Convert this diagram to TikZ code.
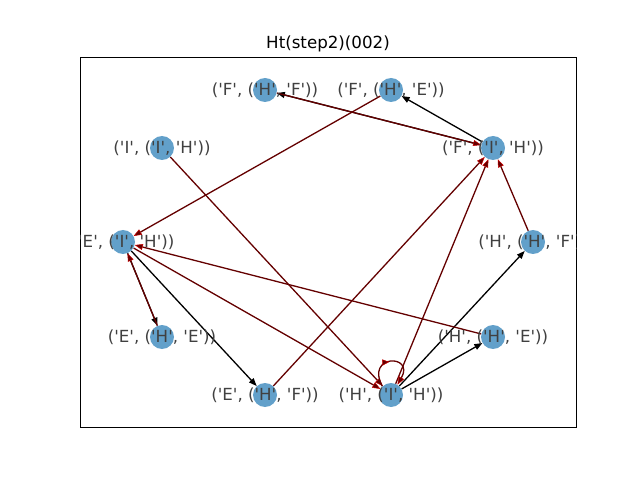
\documentclass[tikz,border=0pt]{standalone}
\usepackage{fontspec}
\setmainfont{DejaVu Sans}[Ligatures=TeXOff]
\usetikzlibrary{arrows.meta,decorations.markings,backgrounds}
\definecolor{nodeblue}{RGB}{98,160,202}
\definecolor{edgered}{RGB}{100,0,0}
\definecolor{tipred}{RGB}{200,0,0}
\definecolor{labelgray}{RGB}{64,64,64}
\begin{document}
\begin{tikzpicture}[x=1pt,y=1pt,
  vertex/.style={circle,fill=nodeblue,minimum size=24pt,inner sep=0pt},
  lbl/.style={text=labelgray,font=\fontsize{16.67}{20}\selectfont,inner sep=0pt},
  blackedge/.style={draw=black,line width=1.3pt,-{Triangle[length=8pt,width=6pt]}},
  rededge/.style={draw=edgered,line width=1.3pt,-{Triangle[length=8pt,width=6pt,line width=0.5pt,color=tipred,fill=edgered]}},
  midarrow/.style={postaction={decorate},decoration={markings,
     mark=at position 0.5 with {\arrow{Triangle[length=7pt,width=6pt,line width=0.5pt,color=tipred,fill=edgered]}}}}
]
\useasboundingbox (0,0) rectangle (640,480);
% title
\node[font=\fontsize{16.67}{20}\selectfont,anchor=base,inner sep=0pt] (title) at (328,431.5) {Ht(step2)(002)};
% axes frame
\draw[line width=1pt] (80,53) rectangle (576,422);
% vertices
\node[vertex] (fhf) at (265,390) {};
\node[vertex] (fhe) at (391,390) {};
\node[vertex] (iih) at (162,332) {};
\node[vertex] (fih) at (493,332) {};
\node[vertex] (eih) at (123,238) {};
\node[vertex] (hhf) at (533,238) {};
\node[vertex] (ehe) at (162,143) {};
\node[vertex] (hhe) at (493,143) {};
\node[vertex] (ehf) at (265,85) {};
\node[vertex] (hih) at (391,85) {};
% edges
\begin{scope}[on background layer]
  \draw[blackedge] (fih) -- (fhe);
  \draw[blackedge] (eih) -- (ehf);
  \draw[blackedge] (hih) -- (hhf);
  \draw[blackedge] (hih) -- (hhe);
  \draw[blackedge] (eih) -- (ehe);
  \draw[blackedge] (fih) -- (fhf);
  \draw[rededge] (fhe) -- (eih);
  \draw[rededge] (iih) -- (hih);
  \draw[rededge] (hhf) -- (fih);
  \draw[rededge] (ehf) -- (fih);
  \draw[rededge] (hih) -- (fih);
  \draw[rededge] (hhe) -- (eih);
  \draw[rededge] (ehe) -- (eih);
  \draw[rededge] (fhf) -- (fih);
  \draw[rededge] (eih) -- (hih);
  \draw[rededge,midarrow] (hih.135) .. controls (365,126) and (415,126) .. (hih.58);
\end{scope}
% labels
\begin{scope}
  \clip (80,53) rectangle (576,422);
  \node[lbl] (l-fhf) at (265,390) {('F', ('H', 'F'))};
  \node[lbl] (l-fhe) at (391,390) {('F', ('H', 'E'))};
  \node[lbl] (l-iih) at (162,332) {('I', ('I', 'H'))};
  \node[lbl] (l-fih) at (493,332) {('F', ('I', 'H'))};
  \node[lbl] (l-eih) at (123,238) {('E', ('I', 'H'))};
  \node[lbl] (l-hhf) at (533,238) {('H', ('H', 'F'))};
  \node[lbl] (l-ehe) at (162,143) {('E', ('H', 'E'))};
  \node[lbl] (l-hhe) at (493,143) {('H', ('H', 'E'))};
  \node[lbl] (l-ehf) at (265,85) {('E', ('H', 'F'))};
  \node[lbl] (l-hih) at (391,85) {('H', ('I', 'H'))};
\end{scope}
\end{tikzpicture}
\end{document}
